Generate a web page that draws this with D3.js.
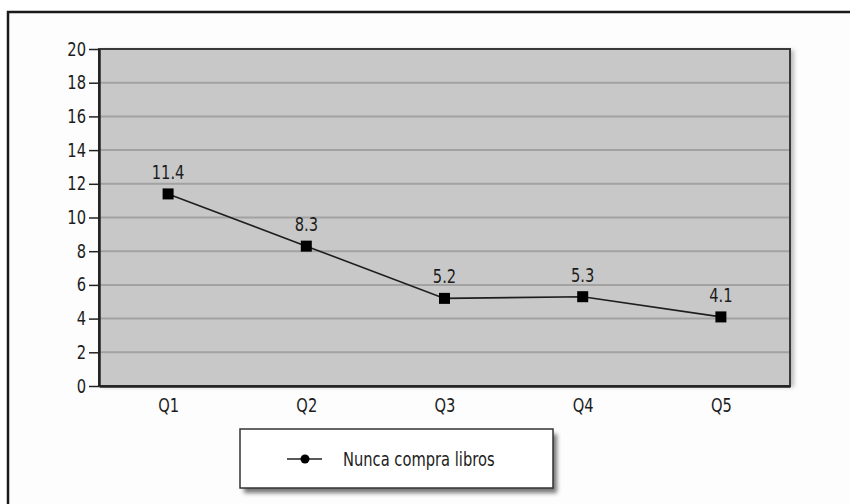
<!DOCTYPE html>
<html>
<head>
<meta charset="utf-8">
<script src="https://cdn.jsdelivr.net/npm/d3@7"></script>
<style>
  body { margin: 0; background: #fff; }
  svg { display: block; }
  text { font-family: "DejaVu Sans Condensed", "DejaVu Sans", sans-serif; fill: #1c1c1c; }
</style>
</head>
<body>
<script>
var width = 850, height = 504;

var categories = ["Q1", "Q2", "Q3", "Q4", "Q5"];
var values = [11.4, 8.3, 5.2, 5.3, 4.1];
var yTicks = [0, 2, 4, 6, 8, 10, 12, 14, 16, 18, 20];
var seriesName = "Nunca compra libros";

var plot = { left: 99, top: 49, right: 790, bottom: 386 };
var squeeze = 0.86;   // the original font is a narrow one

var svg = d3.select("body").append("svg")
    .attr("width", width)
    .attr("height", height);

var defs = svg.append("defs");
defs.append("filter").attr("id", "shadow")
    .attr("x", "-10%").attr("y", "-20%").attr("width", "130%").attr("height", "160%")
  .append("feGaussianBlur").attr("stdDeviation", 2);

// outer frame (runs off the right and bottom)
svg.append("rect")
    .attr("x", 8).attr("y", 12)
    .attr("width", 900).attr("height", 600)
    .style("fill", "#fdfdfd")
    .style("stroke", "#1a1a1a")
    .style("stroke-width", 2.5);

var x = d3.scalePoint()
    .domain(categories)
    .range([plot.left, plot.right])
    .padding(0.5);

var y = d3.scaleLinear()
    .domain([0, 20])
    .range([plot.bottom, plot.top]);

// plot area shadow + fill
svg.append("rect")
    .attr("x", plot.left + 2).attr("y", plot.top + 1)
    .attr("width", plot.right - plot.left + 2)
    .attr("height", plot.bottom - plot.top)
    .style("fill", "#bbb")
    .attr("filter", "url(#shadow)");

svg.append("rect")
    .attr("x", plot.left).attr("y", plot.top)
    .attr("width", plot.right - plot.left)
    .attr("height", plot.bottom - plot.top)
    .style("fill", "#c8c8c8");

// grid lines
svg.append("g").selectAll("line")
    .data(yTicks.filter(function(d){ return d > 0 && d < 20; }))
    .enter().append("line")
    .attr("x1", plot.left).attr("x2", plot.right)
    .attr("y1", function(d){ return y(d); })
    .attr("y2", function(d){ return y(d); })
    .style("stroke", "#a2a2a2")
    .style("stroke-width", 2);

// plot border
svg.append("rect")
    .attr("x", plot.left).attr("y", plot.top)
    .attr("width", plot.right - plot.left)
    .attr("height", plot.bottom - plot.top)
    .style("fill", "none")
    .style("stroke", "#3a3a3a")
    .style("stroke-width", 2);

// y axis
var yAxis = svg.append("g")
    .attr("transform", "translate(" + plot.left + ",0)")
    .call(d3.axisLeft(y).tickValues(yTicks).tickSize(10).tickPadding(3).tickSizeOuter(0));
yAxis.attr("font-family", null).attr("font-size", null);
yAxis.select(".domain").style("stroke", "#222").style("stroke-width", 2.5);
yAxis.selectAll(".tick line").style("stroke", "#222").style("stroke-width", 1.5);
yAxis.selectAll(".tick text")
    .attr("x", -13 / squeeze)
    .attr("transform", "scale(" + squeeze + ",1)")
    .style("font-size", "19px")
    .style("fill", "#1c1c1c");

// x axis labels
var xAxis = svg.append("g")
    .attr("transform", "translate(0," + plot.bottom + ")")
    .call(d3.axisBottom(x).tickSize(0).tickPadding(13));
xAxis.attr("font-family", null).attr("font-size", null);
xAxis.select(".domain").style("stroke", "#222").style("stroke-width", 2.5);
xAxis.selectAll(".tick text")
    .attr("transform", "scale(" + squeeze + ",1)")
    .style("font-size", "19px")
    .style("fill", "#1c1c1c");

// series line
var line = d3.line()
    .x(function(d, i){ return x(categories[i]); })
    .y(function(d){ return y(d); });

svg.append("path")
    .datum(values)
    .attr("d", line)
    .style("fill", "none")
    .style("stroke", "#1e1e1e")
    .style("stroke-width", 1.6);

svg.append("g").selectAll("rect")
    .data(values)
    .enter().append("rect")
    .attr("x", function(d, i){ return x(categories[i]) - 5.5; })
    .attr("y", function(d){ return y(d) - 5.5; })
    .attr("width", 11).attr("height", 11)
    .style("fill", "#000");

svg.append("g").selectAll("text")
    .data(values)
    .enter().append("text")
    .attr("transform", function(d, i){
        return "translate(" + x(categories[i]) + "," + (y(d) - 15) + ") scale(" + squeeze + ",1)";
    })
    .attr("text-anchor", "middle")
    .style("font-size", "19px")
    .text(function(d){ return d.toFixed(1); });

// legend
var legend = svg.append("g").attr("transform", "translate(240,429)");
legend.append("rect")
    .attr("x", 4).attr("y", 5)
    .attr("width", 313).attr("height", 59)
    .style("fill", "#777")
    .attr("filter", "url(#shadow)");
legend.append("rect")
    .attr("width", 313).attr("height", 59)
    .style("fill", "#fff")
    .style("stroke", "#333")
    .style("stroke-width", 1.5);
legend.append("line")
    .attr("x1", 47).attr("x2", 82)
    .attr("y1", 30).attr("y2", 30)
    .style("stroke", "#222").style("stroke-width", 1.5);
legend.append("circle")
    .attr("cx", 65).attr("cy", 30).attr("r", 4.5)
    .style("fill", "#000");
legend.append("text")
    .attr("transform", "translate(103,30) scale(" + squeeze + ",1)")
    .attr("dy", "0.35em")
    .style("font-size", "19px")
    .text(seriesName);
</script>
</body>
</html>
